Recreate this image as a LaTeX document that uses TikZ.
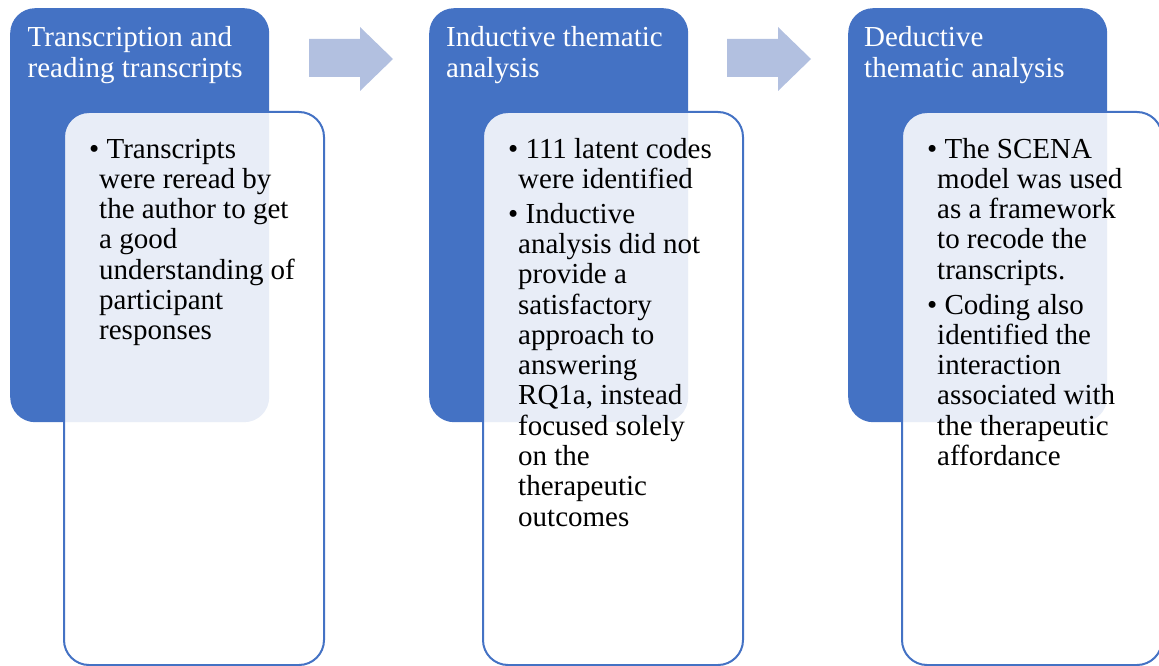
\documentclass[tikz,border=0pt]{standalone}
\usepackage{fontspec}
\setmainfont{Liberation Serif}

\definecolor{accent}{RGB}{68,114,196}
\definecolor{arrowfill}{RGB}{178,192,224}

% one block of text, first baseline at the node's base
\newcommand{\blocktext}[1]{\parbox[t]{400pt}{\fontsize{29pt}{30.3pt}\selectfont\raggedright #1}}
\newcommand{\bitem}{\hspace*{-10pt}•\ }

\tikzset{
  stage/.style={fill=accent, draw=none, rounded corners=25pt,
    minimum width=259pt, minimum height=414pt, anchor=north west, inner sep=0pt},
  detail/.style={fill=white, fill opacity=0.88, draw=accent, draw opacity=1,
    line width=2pt, rounded corners=25pt,
    minimum width=260pt, minimum height=553pt, anchor=north west, inner sep=0pt},
  title/.style={anchor=base west, inner sep=0pt, text=white},
  body/.style={anchor=base west, inner sep=0pt, text=black},
  flow/.style={fill=arrowfill, draw=none},
}

\begin{document}
\begin{tikzpicture}[x=1pt, y=-1pt]
  \useasboundingbox (0,0) rectangle (1159,666);
  \clip (0,0) rectangle (1159,666);

  % stage 1
  \node[stage] (s1) at (10,8) {};
  \node[detail] (d1) at (63,111) {};
  % stage 2
  \node[stage] (s2) at (429,8) {};
  \node[detail] (d2) at (482,111) {};
  % stage 3
  \node[stage] (s3) at (848,8) {};
  \node[detail] (d3) at (901,111) {};

  % block arrows between the stages
  \fill[flow] (309,39) -- (360,39) -- (360,27) -- (393,59) -- (360,91) -- (360,77) -- (309,77) -- cycle;
  \fill[flow] (727,39) -- (778,39) -- (778,27) -- (811,59) -- (778,91) -- (778,77) -- (727,77) -- cycle;

  % headings
  \node[title] (t1) at (27.5,47) {\blocktext{Transcription and\\reading transcripts}};
  \node[title] (t2) at (446,47) {\blocktext{Inductive thematic\\analysis}};
  \node[title] (t3) at (864,47) {\blocktext{Deductive\\thematic analysis}};

  % details
  \node[body] (b1) at (99,158) {\blocktext{%
\bitem Transcripts\\%
were reread by\\%
the author to get\\%
a good\\%
understanding of\\%
participant\\%
responses}};

  \node[body] (b2) at (518,158) {\blocktext{%
\bitem 111 latent codes\\%
were identified\\[4.5pt]%
\bitem Inductive\\%
analysis did not\\%
provide a\\%
satisfactory\\%
approach to\\%
answering\\%
RQ1a, instead\\%
focused solely\\%
on the\\%
therapeutic\\%
outcomes}};

  \node[body] (b3) at (937,158) {\blocktext{%
\bitem The SCENA\\%
model was used\\%
as a framework\\%
to recode the\\%
transcripts.\\[4.5pt]%
\bitem Coding also\\%
identified the\\%
interaction\\%
associated with\\%
the therapeutic\\%
affordance}};
\end{tikzpicture}
\end{document}
